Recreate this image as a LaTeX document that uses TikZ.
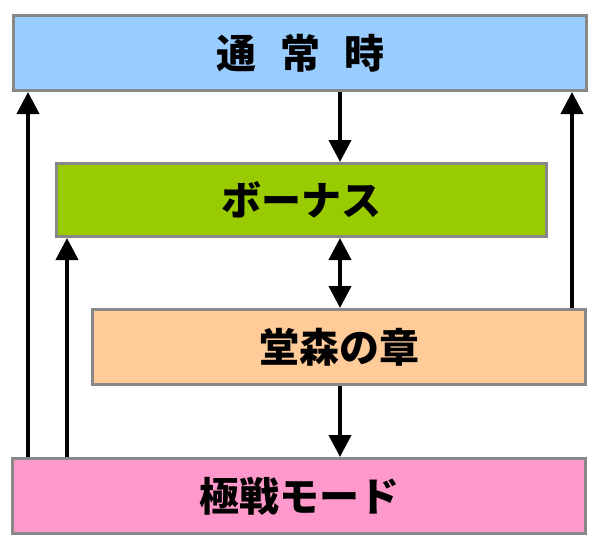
\documentclass[tikz,border=0pt]{standalone}
\usepackage{fontspec}
\setmainfont{Noto Sans CJK JP}[BoldFont={* Black}]
\usetikzlibrary{arrows.meta}
\definecolor{cblue}{HTML}{99CCFF}
\definecolor{cgreen}{HTML}{99CC00}
\definecolor{corange}{HTML}{FFCC99}
\definecolor{cpink}{HTML}{FF99CC}
\definecolor{cborder}{HTML}{888888}
\tikzset{
  box/.style={draw=cborder, line width=3pt, inner sep=0pt, font=\fontsize{40}{44}\selectfont\bfseries, text=black},
  flow/.style={line width=4pt, -{Triangle[length=22pt,width=22pt]}},
  biflow/.style={line width=4pt, {Triangle[length=22pt,width=22pt]}-{Triangle[length=22pt,width=22pt]}}
}
\begin{document}
\begin{tikzpicture}[x=1pt,y=-1pt]
\fill[white] (0,0) rectangle (600,550);
\useasboundingbox (0,0) rectangle (600,550);
\node[box, fill=cblue, minimum width=573pt, minimum height=75pt] (b1) at (300,53) {通\hspace{0.6em}常\hspace{0.6em}時};
\node[box, fill=cgreen, minimum width=490pt, minimum height=73pt] (b2) at (301.5,200) {ボーナス};
\node[box, fill=corange, minimum width=493pt, minimum height=75pt] (b3) at (339,347) {堂森の章};
\node[box, fill=cpink, minimum width=573pt, minimum height=75pt] (b4) at (299,496) {極戦モード};
\coordinate (xm) at (340,0);
\coordinate (xl) at (28,0);
\coordinate (xi) at (67,0);
\coordinate (xr) at (572,0);
\draw[flow] (b1.south -| xm) -- (b2.north -| xm);
\draw[biflow] (b2.south -| xm) -- (b3.north -| xm);
\draw[flow] (b3.south -| xm) -- (b4.north -| xm);
\draw[flow] (b4.north -| xl) -- (b1.south -| xl);
\draw[flow] (b4.north -| xi) -- (b2.south -| xi);
\draw[flow] (b3.north -| xr) -- (b1.south -| xr);
\end{tikzpicture}
\end{document}
